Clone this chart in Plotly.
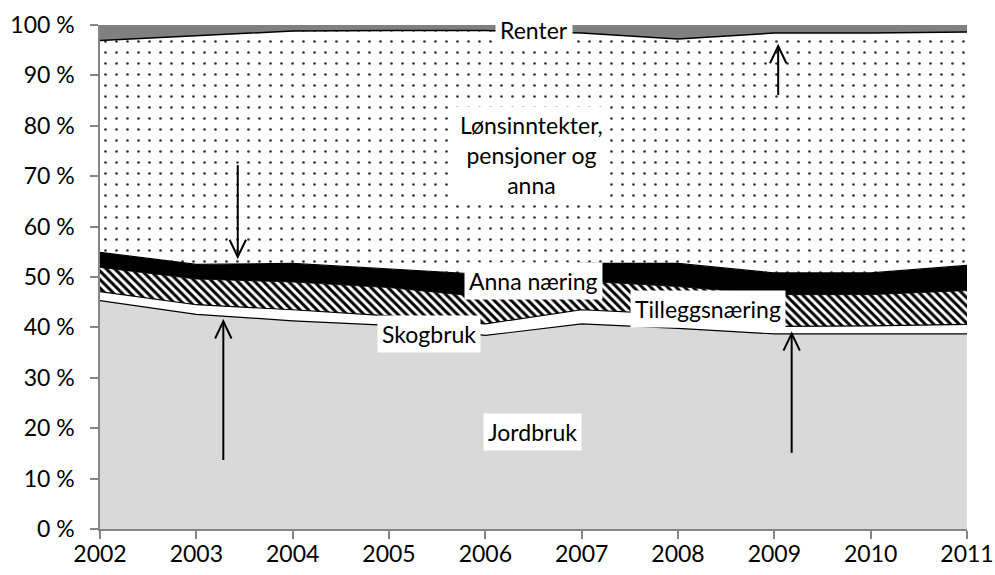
import plotly.graph_objects as go

years = [2002, 2003, 2004, 2005, 2006, 2007, 2008, 2009, 2010, 2011]
jordbruk = [45.3, 42.6, 41.3, 40.4, 38.4, 40.7, 39.8, 38.7, 38.7, 38.7]
skogbruk = [1.8, 1.9, 2.2, 1.9, 2.3, 2.8, 2.8, 1.5, 1.6, 1.9]
tilleggsnaering = [4.8, 5.1, 5.5, 5.6, 5.3, 5.7, 5.5, 6.3, 6.2, 6.7]
anna_naering = [3.0, 2.9, 3.7, 3.7, 4.5, 3.5, 4.6, 4.3, 4.3, 5.0]
lonn = [42.0, 45.4, 46.1, 47.3, 48.4, 45.7, 44.5, 47.6, 47.6, 46.3]
renter = [3.1, 2.1, 1.2, 1.1, 1.1, 1.6, 2.8, 1.6, 1.6, 1.4]

y_ticks = [0, 10, 20, 30, 40, 50, 60, 70, 80, 90, 100]
y_ticktext = [f"{v} %" for v in y_ticks]

FONT = "Lato"
fig = go.Figure()

line = dict(color="black", width=1.2)

fig.add_trace(go.Scatter(x=years, y=jordbruk, name="Jordbruk", stackgroup="one",
                         mode="lines", line=line, fillcolor="#d9d9d9"))
fig.add_trace(go.Scatter(x=years, y=skogbruk, name="Skogbruk", stackgroup="one",
                         mode="lines", line=line, fillcolor="white"))
fig.add_trace(go.Scatter(x=years, y=tilleggsnaering, name="Tilleggsnæring", stackgroup="one",
                         mode="lines", line=dict(color="black", width=0.8),
                         fillpattern=dict(shape="\\", size=6, solidity=0.5,
                                          fgcolor="black", bgcolor="white", fillmode="replace")))
fig.add_trace(go.Scatter(x=years, y=anna_naering, name="Anna næring", stackgroup="one",
                         mode="lines", line=line, fillcolor="black"))
fig.add_trace(go.Scatter(x=years, y=lonn, name="Lønsinntekter, pensjoner og anna", stackgroup="one",
                         mode="lines", line=dict(color="black", width=1.5),
                         fillpattern=dict(shape=".", size=11, solidity=0.045,
                                          fgcolor="#303030", bgcolor="white", fillmode="replace")))
fig.add_trace(go.Scatter(x=years, y=renter, name="Renter", stackgroup="one",
                         mode="lines", line=dict(color="#808080", width=1), fillcolor="#808080"))

def label(x, y, text):
    fig.add_annotation(x=x, y=y, xref="x", yref="y", text=text, showarrow=False,
                       bgcolor="white", borderpad=4,
                       font=dict(family=FONT, size=23, color="black"))

label(2006.50, 99.0, "Renter")
label(2006.48, 74.2, "Lønsinntekter,<br>pensjoner og<br>anna")
label(2006.50, 49.2, "Anna næring")
label(2008.31, 43.7, "Tilleggsnæring")
label(2005.42, 38.6, "Skogbruk")
label(2006.49, 19.3, "Jordbruk")

# open V arrowheads (half-width in years, length in %)
HW, HL = 0.085, 3.4

def arrow(x, y, ty):
    d = 1 if ty > y else -1  # direction from tip back to tail
    arrow_line = dict(color="black", width=2)
    fig.add_shape(type="line", xref="x", yref="y", x0=x, y0=ty, x1=x, y1=y, line=arrow_line)
    fig.add_shape(type="path", xref="x", yref="y",
                  path=f"M {x-HW},{y+d*HL} L {x},{y} L {x+HW},{y+d*HL}",
                  line=arrow_line)

arrow(2003.43, 54.0, 72.2)
arrow(2003.28, 41.2, 13.7)
arrow(2009.18, 38.8, 15.1)
arrow(2009.04, 95.8, 86.1)

fig.update_layout(
    width=995, height=575,
    margin=dict(l=100, r=28, t=25, b=46),
    paper_bgcolor="white", plot_bgcolor="white",
    showlegend=False,
    font=dict(family=FONT, size=23, color="black"),
)
fig.update_xaxes(range=[2002, 2011], tickvals=years, ticktext=[str(y) for y in years],
                 automargin=False,
                 showgrid=False, zeroline=False, showline=True, linecolor="#868686", linewidth=1.5,
                 ticks="outside", ticklen=8, tickcolor="#868686", tickwidth=1.5,
                 ticklabelstandoff=-4,
                 tickfont=dict(family=FONT, size=23, color="black"))
fig.update_yaxes(range=[0, 100], tickvals=y_ticks, ticktext=y_ticktext,
                 automargin=False,
                 showgrid=False, zeroline=False, showline=True, linecolor="#868686", linewidth=1.5,
                 ticks="outside", ticklen=8, tickcolor="#868686", tickwidth=1.5,
                 ticklabelstandoff=11,
                 tickfont=dict(family=FONT, size=23, color="black"))

# remove the default 8px page margin so the figure fills the window exactly
fig.write_html("out.html", config={"displayModeBar": False},
               post_script="document.body.style.margin='0';document.body.style.overflow='hidden';")
